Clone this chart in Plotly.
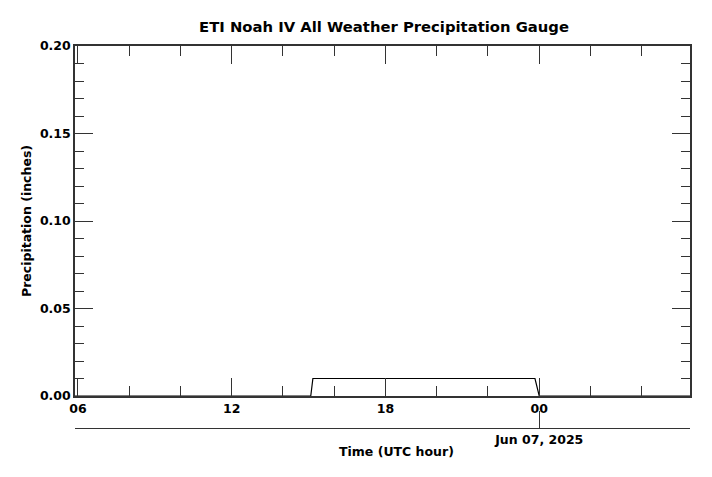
import plotly.graph_objects as go

# Data
times = ["2025-06-06 05:53", "2025-06-06 15:05", "2025-06-06 15:10",
         "2025-06-06 23:50", "2025-06-07 00:00", "2025-06-07 05:53"]
precip = [0.0, 0.0, 0.01, 0.01, 0.0, 0.0]
x_range = ["2025-06-06 05:53", "2025-06-07 05:53"]
y_range = [0, 0.20]
date_tick = ["2025-06-07 00:00"]
date_label = ["<b>Jun 07, 2025</b>"]

W, H = 712, 477
OFF = 8  # page body margin
ml, mr, mt = 75 - OFF, W - (690 - OFF), 46 - OFF
mb = H - (428 - OFF)
plot_h = H - mt - mb
plot_w = W - ml - mr
ydom0 = (428 - 396) / plot_h

AX = "#333333"
FONT = "DejaVu Sans"

fig = go.Figure()
fig.add_trace(go.Scatter(x=times, y=precip, mode="lines",
                         line=dict(color="black", width=1.2),
                         showlegend=False, hoverinfo="skip"))
# invisible trace for second x axis
fig.add_trace(go.Scatter(x=[x_range[0]], y=[0], xaxis="x2", yaxis="y",
                         mode="markers", marker=dict(opacity=0),
                         showlegend=False, hoverinfo="skip"))

fig.update_layout(
    width=W, height=H,
    margin=dict(l=ml, r=mr, t=mt, b=mb),
    paper_bgcolor="white", plot_bgcolor="white",
    font=dict(family=FONT, color="black", size=12.5),
    title=dict(text="<b>ETI Noah IV All Weather Precipitation Gauge</b>",
               x=(384 - OFF) / W, xanchor="center", xref="container",
               y=1 - (27 - OFF) / H, yanchor="middle", yref="container",
               font=dict(size=14.8, family=FONT)),
    xaxis=dict(
        type="date", range=x_range, anchor="y",
        showgrid=False, zeroline=False,
        showline=True, linecolor=AX, linewidth=1.5, mirror="ticks",
        ticks="inside", ticklen=18, tickwidth=1, tickcolor=AX,
        tick0="2025-06-06 00:00", dtick=6 * 3600 * 1000,
        tickformat="%H", tickfont=dict(size=12.5, family=FONT),
        tickprefix="<b>", ticksuffix="</b>",
        ticklabelstandoff=0,
        minor=dict(ticks="inside", ticklen=10, tickwidth=1, tickcolor=AX,
                   dtick=2 * 3600 * 1000, tick0="2025-06-06 00:00",
                   showgrid=False),
    ),
    xaxis2=dict(
        type="date", range=x_range, overlaying="x", anchor="free",
        position=0, side="bottom",
        showgrid=False, zeroline=False,
        showline=True, linecolor=AX, linewidth=1.2,
        ticks="inside", ticklen=17, tickwidth=1, tickcolor=AX,
        tickmode="array", tickvals=date_tick, ticktext=date_label,
        tickfont=dict(size=12.5, family=FONT),
    ),
    yaxis=dict(
        range=y_range, domain=[ydom0, 1],
        showgrid=False, zeroline=False,
        showline=True, linecolor=AX, linewidth=1.5, mirror="ticks",
        ticks="inside", ticklen=18, tickwidth=1, tickcolor=AX,
        dtick=0.05, tick0=0, tickformat=".2f",
        tickprefix="<b>", ticksuffix="</b>",
        tickfont=dict(size=12.5, family=FONT),
        minor=dict(ticks="inside", ticklen=9, tickwidth=1, tickcolor=AX,
                   dtick=0.01, tick0=0, showgrid=False),
        title=dict(text="<b>Precipitation (inches)</b>",
                   font=dict(size=12.5, family=FONT), standoff=6),
    ),
    annotations=[dict(text="<b>Time (UTC hour)</b>", xref="paper", yref="paper",
                      x=(396 - 75) / plot_w, y=(428 - 451) / plot_h,
                      xanchor="center", yanchor="middle", showarrow=False,
                      font=dict(size=12.5, family=FONT))],
)

fig.write_html("out.html")
